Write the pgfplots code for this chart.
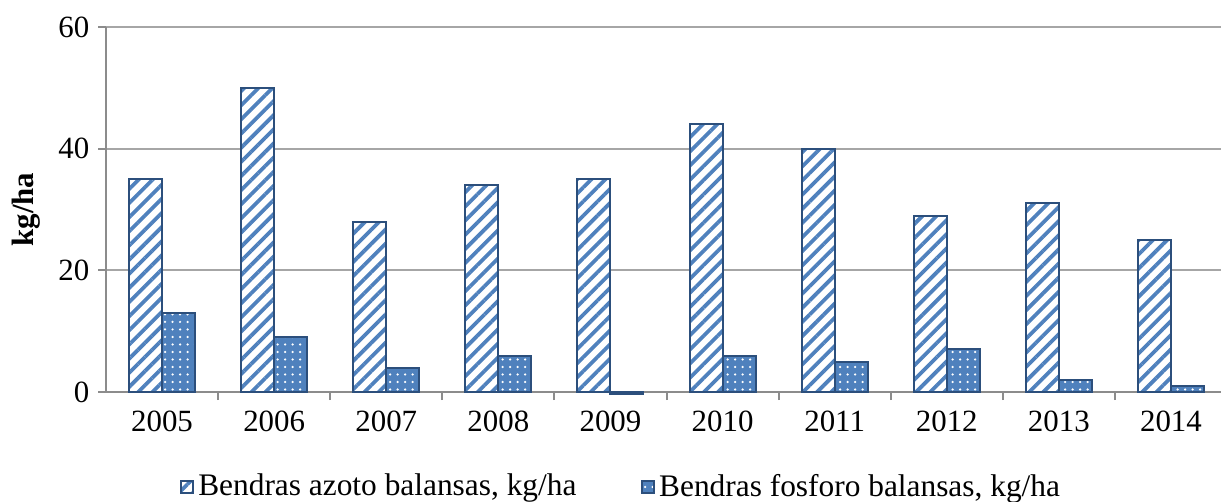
\documentclass[border=0pt]{standalone}
\usepackage{fontspec}
\setmainfont{Liberation Serif}
\usepackage{pgfplots}
\pgfplotsset{compat=1.18}
\usetikzlibrary{patterns.meta}
\definecolor{barblue}{HTML}{4F81BD}
\definecolor{edgeblue}{HTML}{2C4F7C}
\definecolor{gridgray}{HTML}{A6A6A6}
\definecolor{axisgray}{HTML}{8C8C8C}

\begin{document}
\begin{tikzpicture}
\path[use as bounding box] (-42.4bp,-44bp) rectangle (446bp,156.8bp);
\begin{axis}[
  at={(0,0)}, anchor=south west,
  scale only axis, width=448.4bp, height=146bp,
  ybar=0pt, bar width=13.2bp,
  xmin=-0.5, xmax=9.5, ymin=0, ymax=60,
  clip=false,
  xtick={0,...,9},
  xticklabels={2005,2006,2007,2008,2009,2010,2011,2012,2013,2014},
  minor xtick={0.5,1.5,...,8.5},
  ytick={0,20,40,60},
  /pgf/number format/assume math mode=true,
  ymajorgrids, grid style={gridgray, line width=0.8bp},
  axis x line*=bottom, axis y line*=left,
  axis line style={axisgray, line width=0.8bp, -},
  tick align=outside,
  major tick length=3.2bp, minor tick length=3.2bp,
  xtick style={/pgfplots/major tick length=0pt, axisgray, line width=0.8bp},
  ytick style={axisgray, line width=0.8bp},
  tick label style={font=\fontsize{12.4}{14}\selectfont, text=black},
  x tick label style={yshift=-1bp},
  ylabel={\textbf{kg/ha}},
  ylabel style={at={(axis description cs:-0.0714,0.5)}, anchor=center, font=\fontsize{12.4}{14}\selectfont},
  legend style={at={(0.461,-0.26)}, anchor=center, draw=none, fill=none,
    legend columns=2, font=\fontsize{12.6}{14}\selectfont,
    /tikz/every even column/.append style={column sep=24bp}},
  legend image code/.code={\draw[#1, line width=0.5bp] (0bp,-2.3bp) rectangle (4.6bp,2.3bp);},
]
\addplot[draw=edgeblue, line width=0.8bp, preaction={fill=white},
  pattern={Lines[angle=45, distance=4bp, line width=1.5bp]}, pattern color=barblue]
  coordinates {(0,35) (1,50) (2,28) (3,34) (4,35) (5,44) (6,40) (7,29) (8,31) (9,25)};
\addplot[draw=edgeblue, line width=0.8bp, preaction={fill=barblue},
  pattern={Dots[distance=3bp, radius=0.5bp]}, pattern color=white]
  coordinates {(0,13) (1,9) (2,4) (3,6) (4,-0.4) (5,6) (6,5) (7,7) (8,2) (9,1)};
\legend{{Bendras azoto balansas, kg/ha}, {Bendras fosforo balansas, kg/ha}}
\end{axis}
\end{tikzpicture}
\end{document}
